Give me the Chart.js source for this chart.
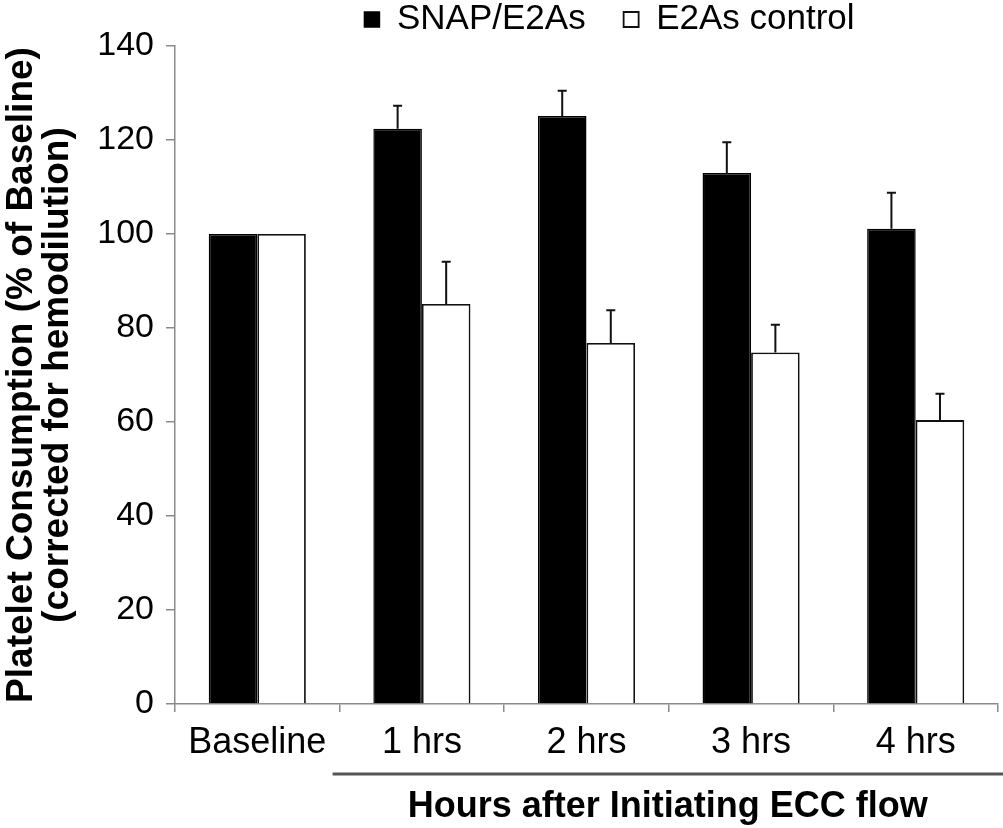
<!DOCTYPE html>
<html>
<head>
<meta charset="utf-8">
<script src="https://cdn.jsdelivr.net/npm/chart.js@4/dist/chart.umd.min.js"></script>
<style>
  html, body { margin: 0; padding: 0; background: #fff; }
  #wrap { width: 1003px; height: 828px; }
</style>
</head>
<body>
<div id="wrap"><canvas id="c" width="1003" height="828"></canvas></div>
<script>
const categories = ['Baseline', '1 hrs', '2 hrs', '3 hrs', '4 hrs'];
const snapValues = [100, 122.4, 125.1, 113.0, 101.1];
const snapErrors = [0, 4.9, 5.4, 6.5, 7.7];
const controlValues = [100, 85.1, 76.8, 74.8, 60.4];
const controlErrors = [0, 9.0, 7.0, 5.9, 5.6];
const seriesNames = ['SNAP/E2As', 'E2As control'];
const yTitle = ['Platelet Consumption (% of Baseline)', '(corrected for hemodilution)'];
const groupTitle = 'Hours after Initiating ECC flow';

const FONT = '"Liberation Sans", Arial, Helvetica, sans-serif';
const AXIS_GREY = '#8a8a8a';

const errorBars = {
  id: 'errorBars',
  afterDatasetsDraw(chart) {
    const ctx = chart.ctx;
    const y = chart.scales.y;
    const errs = [snapErrors, controlErrors];
    const vals = [snapValues, controlValues];
    ctx.save();
    ctx.strokeStyle = '#111';
    ctx.lineWidth = 2;
    chart.data.datasets.forEach((ds, i) => {
      const meta = chart.getDatasetMeta(i);
      meta.data.forEach((bar, j) => {
        const e = errs[i][j];
        if (!e) return;
        const top = y.getPixelForValue(vals[i][j] + e);
        ctx.beginPath();
        ctx.moveTo(bar.x, bar.y);
        ctx.lineTo(bar.x, top);
        ctx.moveTo(bar.x - 4.5, top);
        ctx.lineTo(bar.x + 4.5, top);
        ctx.stroke();
      });
    });
    ctx.restore();
  }
};

const groupLabel = {
  id: 'groupLabel',
  afterLayout(chart) {
    if (chart.legend) {
      chart.legend.top = -36;
      chart.legend.left = 221;
    }
  },
  afterDraw(chart) {
    const ctx = chart.ctx;
    const x = chart.scales.x;
    const start = (x.getPixelForValue(0) + x.getPixelForValue(1)) / 2 - 7;
    const end = chart.width;
    const base = chart.chartArea.bottom;
    ctx.save();
    ctx.strokeStyle = '#555';
    ctx.lineWidth = 3;
    ctx.beginPath();
    ctx.moveTo(start, base + 70);
    ctx.lineTo(end, base + 70);
    ctx.stroke();
    ctx.fillStyle = '#000';
    ctx.font = 'bold 36px ' + FONT;
    ctx.textAlign = 'center';
    ctx.textBaseline = 'middle';
    ctx.fillText(groupTitle, (start + end) / 2, base + 103);
    ctx.restore();
  }
};

new Chart(document.getElementById('c'), {
  type: 'bar',
  data: {
    labels: categories,
    datasets: [
      {
        label: seriesNames[0],
        data: snapValues,
        backgroundColor: '#000',
        borderColor: '#000',
        borderWidth: 1.5
      },
      {
        label: seriesNames[1],
        data: controlValues,
        backgroundColor: '#fff',
        borderColor: '#111',
        borderWidth: 1.8
      }
    ]
  },
  options: {
    responsive: false,
    animation: false,
    devicePixelRatio: 1,
    layout: { padding: { left: 0, right: 5, top: 0, bottom: 64 } },
    datasets: { bar: { categoryPercentage: 0.59, barPercentage: 1.0 } },
    plugins: {
      tooltip: { enabled: false },
      legend: {
        position: 'top',
        maxHeight: 46,
        labels: {
          color: '#000',
          font: { family: FONT, size: 35 },
          boxWidth: 15,
          boxHeight: 15,
          padding: 38
        }
      }
    },
    scales: {
      x: {
        grid: { display: true, drawOnChartArea: false, drawTicks: true, tickLength: 8, color: AXIS_GREY, lineWidth: 1.5 },
        border: { display: true, color: AXIS_GREY, width: 1.5 },
        ticks: { color: '#000', font: { family: FONT, size: 36 }, padding: 9, maxRotation: 0 },
        afterFit(scale) { scale.height = 60; }
      },
      y: {
        min: 0,
        max: 140,
        ticks: { stepSize: 20, color: '#000', font: { family: FONT, size: 34 }, padding: 12 },
        grid: { display: true, drawOnChartArea: false, drawTicks: true, tickLength: 9, color: AXIS_GREY, lineWidth: 1.5 },
        border: { display: true, color: AXIS_GREY, width: 1.5 },
        title: {
          display: true,
          text: yTitle,
          color: '#000',
          font: { family: FONT, size: 37, weight: 'bold', lineHeight: 0.97 },
          padding: { top: 4, bottom: 0 }
        },
        afterFit(scale) { scale.width = 175; }
      }
    }
  },
  plugins: [errorBars, groupLabel]
});
</script>
</body>
</html>
